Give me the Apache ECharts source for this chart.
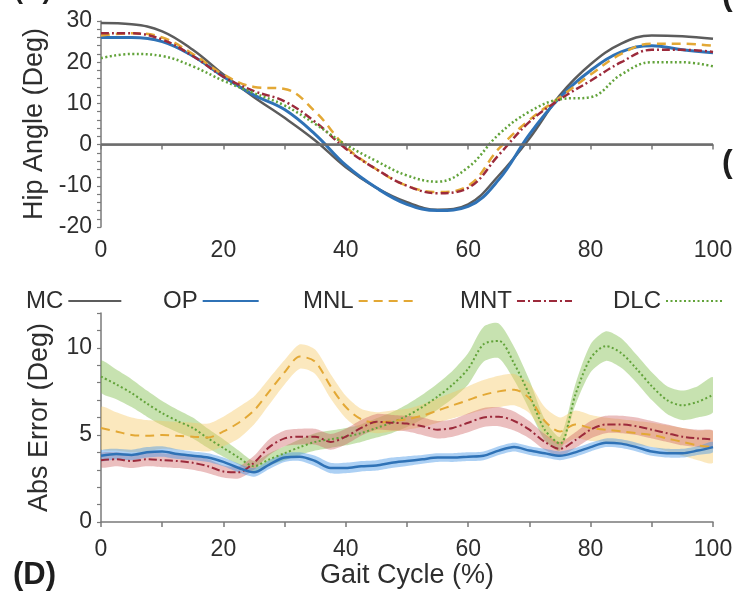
<!DOCTYPE html>
<html>
<head>
<meta charset="utf-8">
<script src="https://cdn.jsdelivr.net/npm/echarts@6/dist/echarts.min.js"></script>
<style>
  html, body { margin: 0; padding: 0; background: #ffffff; }
  #chart { width: 743px; height: 592px; }
</style>
</head>
<body>
<div id="chart"></div>
<script>
// ---- Hip angle over the gait cycle (upper panel) ----
const gaitTop = [0, 5, 10, 15, 20, 25, 30, 35, 40, 45, 50, 55, 60, 65, 70, 75, 80, 85, 90, 95, 100];
const hipMC  = [29.5, 29.2, 27.5, 23.0, 17.0, 11.5, 6.5, 1.0, -5.5, -10.5, -14.0, -15.8, -14.5, -7.5, 1.5, 12.0, 19.5, 24.5, 26.5, 26.3, 25.7];
const hipOP  = [26.0, 26.0, 25.0, 21.5, 16.5, 12.0, 8.5, 2.5, -5.0, -10.5, -14.5, -16.0, -15.0, -8.5, 2.5, 11.5, 18.0, 22.5, 24.0, 23.0, 22.3];
const hipMNL = [26.5, 27.0, 26.0, 22.0, 17.0, 14.0, 13.5, 8.0, -0.5, -6.0, -10.0, -11.5, -10.0, -1.0, 6.0, 11.5, 17.0, 22.0, 24.5, 24.5, 24.0];
const hipMNT = [27.0, 27.0, 25.5, 21.5, 16.5, 13.0, 10.5, 5.5, -1.0, -6.0, -10.0, -11.8, -10.5, -2.5, 5.5, 11.0, 15.5, 20.0, 23.0, 23.0, 22.5];
const hipDLC = [21.0, 22.0, 21.5, 19.0, 15.5, 12.5, 9.5, 5.0, 0.0, -4.0, -7.5, -9.0, -5.5, 2.5, 8.0, 11.0, 11.5, 17.0, 20.0, 20.0, 19.0];

// ---- Absolute error against MC (lower panel), mean and spread ----
const gaitErr = [0, 2.5, 5, 7.5, 10, 12.5, 15, 17.5, 20, 22.5, 25, 27.5, 30, 32.5, 35, 37.5, 40, 42.5, 45, 47.5, 50,
                 52.5, 55, 57.5, 60, 62.5, 65, 67.5, 70, 72.5, 75, 77.5, 80, 82.5, 85, 87.5, 90, 92.5, 95, 97.5, 100];
const errOP  = [3.8, 3.9, 3.85, 4.0, 4.05, 3.9, 3.8, 3.7, 3.45, 3.1, 2.85, 3.3, 3.7, 3.75, 3.5, 3.1, 3.1, 3.2, 3.25, 3.4, 3.5,
                3.6, 3.7, 3.7, 3.75, 3.8, 4.1, 4.3, 4.1, 3.95, 3.8, 4.0, 4.3, 4.55, 4.5, 4.3, 4.05, 3.95, 3.95, 4.1, 4.3];
const sdOP   = [0.3, 0.3, 0.3, 0.3, 0.3, 0.28, 0.25, 0.25, 0.25, 0.25, 0.25, 0.25, 0.25, 0.25, 0.3, 0.3, 0.3, 0.3, 0.3, 0.3, 0.28,
                0.25, 0.25, 0.25, 0.25, 0.25, 0.25, 0.25, 0.25, 0.25, 0.25, 0.25, 0.25, 0.25, 0.25, 0.25, 0.25, 0.25, 0.25, 0.25, 0.3];
const errMNT = [3.55, 3.6, 3.5, 3.6, 3.55, 3.5, 3.4, 3.2, 2.9, 2.85, 3.4, 4.3, 4.8, 4.9, 4.9, 4.6, 4.9, 5.4, 5.75, 5.7, 5.65,
                5.5, 5.3, 5.4, 5.7, 6.0, 6.05, 5.8, 5.3, 4.6, 4.2, 4.7, 5.3, 5.6, 5.6, 5.5, 5.3, 5.1, 4.9, 4.8, 4.75];
const sdMNT  = [0.4, 0.4, 0.4, 0.4, 0.4, 0.4, 0.4, 0.4, 0.35, 0.35, 0.4, 0.45, 0.45, 0.45, 0.45, 0.45, 0.45, 0.45, 0.45, 0.45, 0.45,
                0.5, 0.5, 0.5, 0.55, 0.55, 0.55, 0.55, 0.5, 0.45, 0.4, 0.45, 0.5, 0.5, 0.5, 0.5, 0.5, 0.5, 0.5, 0.5, 0.5];
const errMNL = [5.4, 5.2, 5.0, 4.95, 5.0, 4.95, 4.9, 4.85, 5.2, 5.7, 6.4, 7.5, 8.6, 9.5, 9.2, 7.8, 6.6, 5.9, 5.7, 5.8, 5.9,
                6.1, 6.4, 6.7, 7.0, 7.3, 7.5, 7.6, 7.1, 5.8, 5.2, 5.6, 5.4, 5.3, 5.2, 5.1, 5.0, 4.8, 4.6, 4.4, 4.3];
const sdMNL  = [1.2, 1.1, 1.0, 0.9, 0.8, 0.8, 0.8, 0.8, 0.85, 0.9, 0.8, 0.75, 0.7, 0.7, 0.7, 0.7, 0.65, 0.6, 0.6, 0.6, 0.6,
                0.65, 0.7, 0.75, 0.8, 0.85, 0.9, 0.9, 0.85, 0.8, 0.8, 0.8, 0.75, 0.7, 0.7, 0.7, 0.7, 0.75, 0.8, 0.85, 0.9];
const errDLC = [8.35, 7.9, 7.4, 6.8, 6.25, 5.8, 5.4, 4.8, 4.25, 3.7, 3.2, 3.6, 3.95, 4.3, 4.6, 4.75, 4.9, 5.1, 5.4, 5.7, 6.1,
                6.6, 7.2, 7.9, 8.8, 10.2, 10.4, 9.1, 7.3, 5.3, 4.5, 7.3, 9.4, 10.1, 9.7, 8.8, 7.8, 7.0, 6.7, 6.9, 7.3];
const sdDLC  = [0.9, 0.85, 0.8, 0.75, 0.7, 0.65, 0.6, 0.55, 0.5, 0.4, 0.3, 0.35, 0.4, 0.45, 0.5, 0.5, 0.5, 0.5, 0.55, 0.6, 0.65,
                0.7, 0.75, 0.8, 0.9, 1.0, 1.0, 0.95, 0.85, 0.6, 0.4, 0.6, 0.8, 0.85, 0.85, 0.8, 0.8, 0.8, 0.85, 0.9, 1.0];

// axis ticks and labels
const hipTicks = [-20, -10, 0, 10, 20, 30];
const errTicks = [0, 5, 10];
const gaitTicks = [0, 20, 40, 60, 80, 100];

const FONT = '"Liberation Sans", Arial, Helvetica, sans-serif';
const TEXT = '#2e2e2e';
const AXIS = '#7a7a7a';

const methods = {
  MC:  { color: '#5c5c5c', type: 'solid', width: 2.5 },
  OP:  { color: '#2f72b6', type: 'solid', width: 3 },
  MNL: { color: '#e3a835', type: [9, 6], width: 2.5 },
  MNT: { color: '#9c2a3b', type: [8, 3, 2, 3], width: 2.5 },
  DLC: { color: '#62a33a', type: [2, 2.5], width: 2.5 }
};
const bandColor = {
  OP:  'rgba(70, 150, 230, 0.45)',
  MNT: 'rgba(205, 95, 95, 0.40)',
  MNL: 'rgba(245, 200, 100, 0.42)',
  DLC: 'rgba(130, 190, 80, 0.45)'
};

const pairs = (xs, ys) => xs.map((x, i) => [x, ys[i]]);

function hipSeries(name, ys) {
  const m = methods[name];
  return {
    name, type: 'line', xAxisIndex: 0, yAxisIndex: 0,
    data: pairs(gaitTop, ys), smooth: 0.4, symbol: 'none', z: 3,
    lineStyle: { color: m.color, width: m.width, type: m.type },
    itemStyle: { color: m.color }
  };
}

// shaded spread (mean ± sd) drawn as one polygon in data coordinates
function bandSeries(name, ys, sd) {
  return {
    name: name + ' spread', type: 'custom', xAxisIndex: 1, yAxisIndex: 1,
    data: [[0, 0]], silent: true, z: 1, clip: true,
    renderItem: (params, api) => {
      const upper = gaitErr.map((x, i) => api.coord([x, ys[i] + sd[i]]));
      const lower = gaitErr.map((x, i) => api.coord([x, ys[i] - sd[i]])).reverse();
      return {
        type: 'polygon',
        shape: { points: upper.concat(lower), smooth: 0.25 },
        style: { fill: bandColor[name] }
      };
    }
  };
}

function errLine(name, ys) {
  const m = methods[name];
  return {
    name: name + ' error', type: 'line', xAxisIndex: 1, yAxisIndex: 1,
    data: pairs(gaitErr, ys), smooth: 0.3, symbol: 'none', z: 3,
    lineStyle: { color: m.color, width: m.width - 0.5, type: m.type }
  };
}

const axisLine = { show: true, lineStyle: { color: AXIS, width: 1.5 } };
const labelStyle = { color: TEXT, fontSize: 23, fontFamily: FONT };
const nameStyle = { color: TEXT, fontSize: 27, fontFamily: FONT };

function gaitAxis(gridIndex, margin, withName) {
  return {
    type: 'value', gridIndex, min: 0, max: 100, interval: 10,
    axisLine, splitLine: { show: false },
    axisTick: { show: true, length: 5, lineStyle: { color: AXIS, width: 1.5 } },
    axisLabel: Object.assign({}, labelStyle, {
      margin, formatter: v => (gaitTicks.includes(v) ? String(v) : '')
    }),
    name: withName ? 'Gait Cycle (%)' : '', nameLocation: 'middle', nameGap: 40,
    nameTextStyle: nameStyle
  };
}

function valueAxis(gridIndex, min, max, step, ticks, name) {
  return {
    type: 'value', gridIndex, min, max, interval: step,
    axisLine, splitLine: { show: false },
    axisTick: { show: true, length: 4, lineStyle: { color: AXIS, width: 1.2 } },
    axisLabel: Object.assign({}, labelStyle, {
      margin: 9, formatter: v => (ticks.includes(v) ? String(v) : '')
    }),
    name, nameLocation: 'middle', nameGap: 48, nameTextStyle: nameStyle
  };
}

function legendItem(name, left, width) {
  return {
    data: [name], left, top: 284, align: 'right', orient: 'horizontal',
    itemWidth: width, itemHeight: 14, selectedMode: false,
    itemStyle: { opacity: 0 },
    textStyle: { color: TEXT, fontSize: 24, fontFamily: FONT }
  };
}

const series = [
  // reference line at 0 deg
  {
    name: 'zero', type: 'line', xAxisIndex: 0, yAxisIndex: 0, data: [], z: 2,
    markLine: {
      silent: true, symbol: 'none', label: { show: false },
      lineStyle: { color: '#6d6d6d', width: 2.5, type: 'solid' },
      data: [{ yAxis: 0 }]
    }
  },
  hipSeries('MC', hipMC),
  hipSeries('OP', hipOP),
  hipSeries('MNL', hipMNL),
  hipSeries('MNT', hipMNT),
  hipSeries('DLC', hipDLC),
  bandSeries('DLC', errDLC, sdDLC),
  bandSeries('MNL', errMNL, sdMNL),
  bandSeries('MNT', errMNT, sdMNT),
  bandSeries('OP', errOP, sdOP),
  errLine('DLC', errDLC),
  errLine('MNL', errMNL),
  errLine('MNT', errMNT),
  errLine('OP', errOP)
];

const chart = echarts.init(document.getElementById('chart'), null, { renderer: 'canvas' });
chart.setOption({
  backgroundColor: '#ffffff',
  animation: false,
  textStyle: { fontFamily: FONT },
  grid: [
    { left: 101, right: 30, top: 21, height: 206 },
    { left: 101, right: 30, top: 313, height: 209 }
  ],
  xAxis: [gaitAxis(0, 12, false), gaitAxis(1, 16, true)],
  yAxis: [
    valueAxis(0, -20, 30, 2, hipTicks, 'Hip Angle (Deg)'),
    valueAxis(1, 0, 12, 1, errTicks, 'Abs Error (Deg)')
  ],
  legend: [
    legendItem('MC', 21, 53),
    legendItem('OP', 158, 56),
    legendItem('MNL', 298, 57),
    legendItem('MNT', 455, 55),
    legendItem('DLC', 608, 56)
  ],
  graphic: [
    { type: 'text', left: 13, top: 560, style: { text: '(D)', font: 'bold 31px ' + FONT, fill: '#1e1e1e' } },
    { type: 'text', x: 14, y: 4, style: { text: '(C)', font: 'bold 27px ' + FONT, fill: '#1e1e1e', textVerticalAlign: 'bottom' } },
    { type: 'text', x: 722, y: 163, style: { text: '(', font: 'bold 32px ' + FONT, fill: '#1e1e1e', textVerticalAlign: 'middle' } },
    { type: 'text', x: 722, y: 12, style: { text: '(', font: 'bold 32px ' + FONT, fill: '#1e1e1e', textVerticalAlign: 'bottom' } }
  ],
  series
});
</script>
</body>
</html>
